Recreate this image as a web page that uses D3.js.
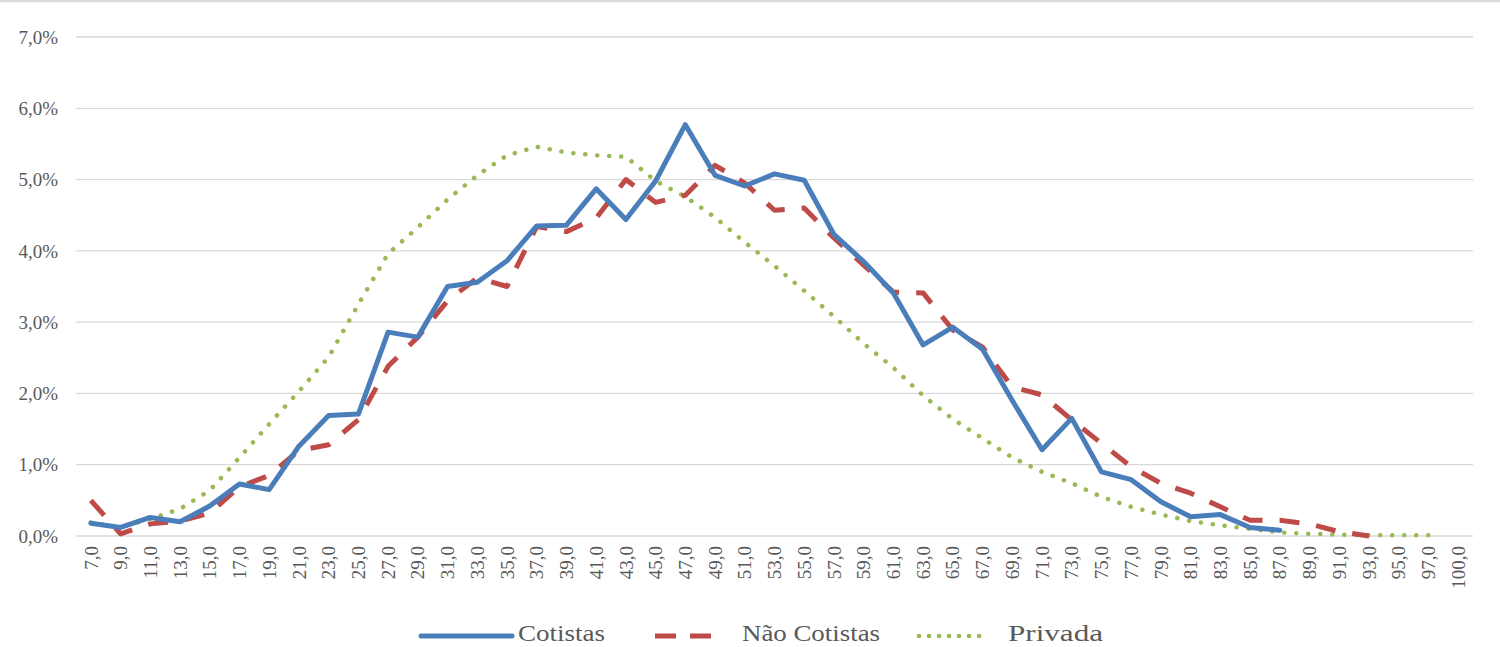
<!DOCTYPE html>
<html>
<head>
<meta charset="utf-8">
<script src="https://cdn.jsdelivr.net/npm/d3@7"></script>
<style>
  html, body { margin: 0; padding: 0; background: #ffffff; }
  svg { display: block; }
</style>
</head>
<body>
<svg id="chart" width="1500" height="647"></svg>
<script>
const categories = ["7,0","9,0","11,0","13,0","15,0","17,0","19,0","21,0","23,0","25,0","27,0","29,0","31,0","33,0","35,0","37,0","39,0","41,0","43,0","45,0","47,0","49,0","51,0","53,0","55,0","57,0","59,0","61,0","63,0","65,0","67,0","69,0","71,0","73,0","75,0","77,0","79,0","81,0","83,0","85,0","87,0","89,0","91,0","93,0","95,0","97,0","100,0"];

const cotistas = [0.18,0.12,0.26,0.20,0.42,0.73,0.65,1.26,1.69,1.71,2.86,2.79,3.50,3.56,3.86,4.35,4.36,4.87,4.44,4.98,5.77,5.06,4.91,5.08,4.99,4.23,3.85,3.41,2.68,2.93,2.62,1.90,1.21,1.65,0.90,0.79,0.48,0.27,0.30,0.12,0.08,null,null,null,null,null,null];

const naoCotistas = [0.50,0.03,0.17,0.21,0.32,0.69,0.85,1.20,1.28,1.63,2.38,2.79,3.30,3.62,3.50,4.34,4.27,4.46,5.00,4.68,4.78,5.20,4.95,4.57,4.60,4.18,3.80,3.42,3.41,2.89,2.65,2.09,1.98,1.63,1.30,0.97,0.74,0.60,0.41,0.22,0.22,0.17,0.06,0.00,null,null,null];

const privada = [0.19,0.12,0.24,0.38,0.64,1.10,1.57,2.03,2.51,3.25,3.96,4.33,4.72,5.06,5.34,5.46,5.38,5.34,5.32,4.98,4.76,4.47,4.12,3.79,3.44,3.08,2.70,2.36,1.97,1.64,1.37,1.10,0.90,0.74,0.55,0.41,0.30,0.21,0.15,0.10,0.05,0.03,0.02,0.01,0.01,0.01,null];

const yTicks = [0,1,2,3,4,5,6,7];
const yTickLabels = ["0,0%","1,0%","2,0%","3,0%","4,0%","5,0%","6,0%","7,0%"];

const seriesNames = ["Cotistas","Não Cotistas","Privada"];

const svg = d3.select("#chart");
const W = 1500, H = 647;
const margin = {left: 76, right: 27, top: 37, bottom: 111};

const x = d3.scalePoint().domain(categories).range([margin.left, W - margin.right]).padding(0.5);
const y = d3.scaleLinear().domain([0, 7]).range([H - margin.bottom, margin.top]);

// top border line
svg.append("line").attr("x1", 0).attr("x2", W).attr("y1", 1).attr("y2", 1)
  .attr("stroke", "#d9d9d9").attr("stroke-width", 2.5);

// gridlines
svg.append("g").selectAll("line").data(yTicks).join("line")
  .attr("x1", margin.left).attr("x2", W - margin.right)
  .attr("y1", d => y(d)).attr("y2", d => y(d))
  .attr("stroke", "#d9d9d9").attr("stroke-width", 1.3);

// y labels
svg.append("g").selectAll("text").data(yTicks).join("text")
  .attr("x", 58).attr("y", d => y(d)).attr("dy", "0.35em")
  .attr("text-anchor", "end")
  .attr("font-family", "Liberation Serif, Times New Roman, serif")
  .attr("font-size", 19).attr("fill", "#595959")
  .text((d, i) => yTickLabels[i]);

// x labels
svg.append("g").selectAll("text").data(categories).join("text")
  .attr("transform", d => `translate(${x(d)},${H - margin.bottom + 10}) rotate(-90)`)
  .attr("dy", "0.35em")
  .attr("text-anchor", "end")
  .attr("font-family", "Liberation Serif, Times New Roman, serif")
  .attr("font-size", 19).attr("fill", "#595959")
  .text(d => d);

const styles = [
  {color: "#4a7ebb", width: 5, dash: null, cap: "round"},
  {color: "#be4b48", width: 5, dash: "20,17", cap: "butt"},
  {color: "#98b954", width: 4.5, dash: "0.1,11.9", cap: "round"}
];
const allSeries = [cotistas, naoCotistas, privada];

const line = d3.line()
  .defined(d => d.v != null)
  .x(d => x(d.c))
  .y(d => y(d.v));

[2, 1, 0].forEach(si => {
  const data = categories.map((c, i) => ({c, v: allSeries[si][i]}));
  const st = styles[si];
  svg.append("path").datum(data)
    .attr("d", line)
    .attr("fill", "none")
    .attr("stroke", st.color)
    .attr("stroke-width", st.width)
    .attr("stroke-linejoin", "round")
    .attr("stroke-linecap", st.cap)
    .attr("stroke-dasharray", st.dash);
});

// legend
const legendItems = [
  {name: seriesNames[0], x1: 421, x2: 512, tx: 518, tw: 87, st: styles[0], dash: null},
  {name: seriesNames[1], x1: 655, x2: 711, tx: 742, tw: 138, st: styles[1], dash: "21,14"},
  {name: seriesNames[2], x1: 919, x2: 980, tx: 1008, tw: 95, st: styles[2], dash: "0.1,9.9"}
];
const lg = svg.append("g");
legendItems.forEach(it => {
  lg.append("line")
    .attr("x1", it.x1).attr("x2", it.x2).attr("y1", 636).attr("y2", 636)
    .attr("stroke", it.st.color).attr("stroke-width", it.st.width)
    .attr("stroke-linecap", it.st.cap)
    .attr("stroke-dasharray", it.dash);
  lg.append("text")
    .attr("x", it.tx).attr("y", 641)
    .attr("font-family", "Liberation Serif, Times New Roman, serif")
    .attr("font-size", 24).attr("fill", "#595959")
    .attr("textLength", it.tw).attr("lengthAdjust", "spacingAndGlyphs")
    .text(it.name);
});
</script>
</body>
</html>
